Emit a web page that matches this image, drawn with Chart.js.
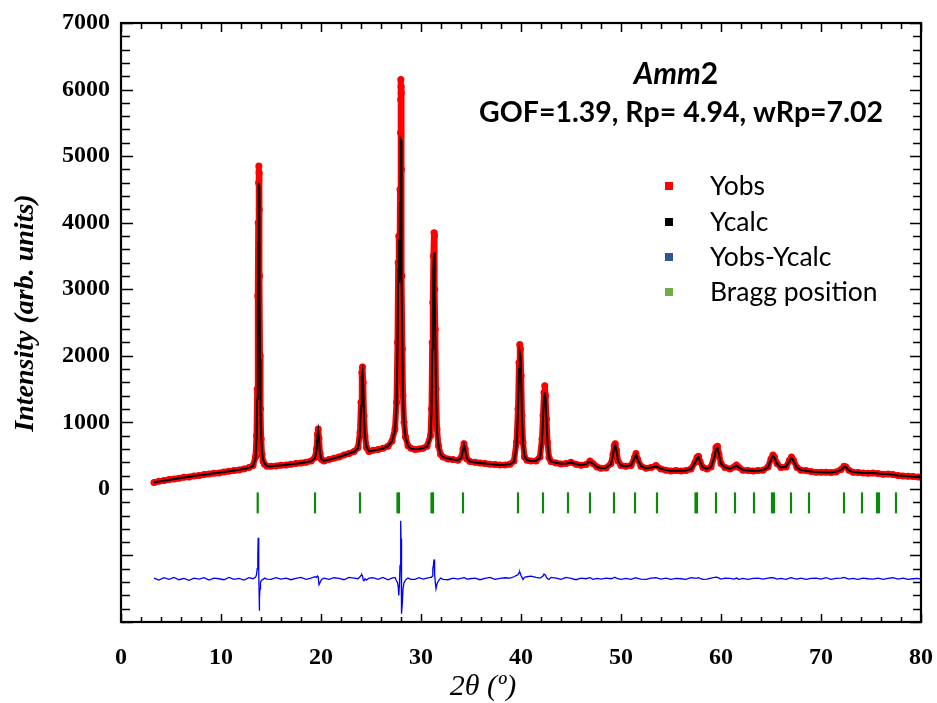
<!DOCTYPE html>
<html>
<head>
<meta charset="utf-8">
<script src="https://cdn.jsdelivr.net/npm/chart.js@4.4.1/dist/chart.umd.min.js"></script>
<style>
  html, body { margin: 0; padding: 0; background: #fff; }
  #wrap { width: 937px; height: 703px; }
</style>
</head>
<body>
<div id="wrap"><canvas id="rietveld" width="937" height="703"></canvas></div>
<script>
// 2theta grid (deg), with extra points through each peak
const twoTheta = [
  3.3, 3.8, 4.3, 4.8, 5.3, 5.8, 6.3, 6.8, 7.3, 7.8, 8.3, 8.8, 9.3, 9.8, 10.3, 10.8, 11.3, 11.8, 12.3, 12.8, 13.2,
  13.45, 13.55, 13.62, 13.68, 13.72, 13.76, 13.79, 13.81, 13.83, 13.86, 13.9, 13.95, 14.02, 14.1, 14.2, 14.35, 14.6,
  15.0, 15.5, 16.0, 16.5, 17.0, 17.5, 18.0, 18.5, 19.0, 19.4,
  19.55, 19.65, 19.72, 19.8, 19.9, 20.05, 20.3,
  20.8, 21.3, 21.8, 22.3, 22.8, 23.3, 23.7,
  23.9, 24.0, 24.08, 24.15, 24.22, 24.3, 24.4, 24.55, 24.8,
  25.2, 25.7, 26.2, 26.7, 27.1, 27.4,
  27.55, 27.65, 27.72, 27.78, 27.84, 27.9, 27.95, 27.97, 27.99, 28.0, 28.02, 28.05, 28.09, 28.14, 28.2, 28.3, 28.45, 28.7, 29.0,
  29.4, 29.8, 30.2, 30.6, 30.95,
  31.05, 31.12, 31.18, 31.24, 31.3, 31.34, 31.38, 31.43, 31.5, 31.6, 31.75, 31.95, 32.2,
  32.7, 33.2, 33.7, 34.05,
  34.2, 34.3, 34.42, 34.6, 34.9,
  35.4, 35.9, 36.4, 36.9, 37.4, 37.9, 38.4, 38.9, 39.3, 39.55,
  39.7, 39.8, 39.88, 39.95, 40.02, 40.1, 40.2, 40.35, 40.6,
  41.0, 41.5, 41.9, 42.1,
  42.2, 42.3, 42.38, 42.46, 42.55, 42.65, 42.8, 43.0,
  43.5, 44.0, 44.5, 45.0, 45.5, 46.0, 46.5, 46.9, 47.2, 47.6, 48.0, 48.5, 49.0,
  49.2, 49.32, 49.42, 49.55, 49.7, 50.0,
  50.5, 51.0, 51.35, 51.5, 51.65, 52.0,
  52.5, 53.0, 53.5, 54.0, 54.5, 55.0, 55.5, 56.0, 56.5, 57.0, 57.4,
  57.6, 57.75, 57.9, 58.2,
  58.6, 59.0, 59.35, 59.5, 59.65, 59.8, 60.0, 60.4,
  60.9, 61.3, 61.55, 61.8, 62.2,
  62.7, 63.2, 63.7, 64.2, 64.7, 65.0, 65.2, 65.35, 65.6,
  66.0, 66.5, 66.85, 67.05, 67.25, 67.6, 68.0,
  68.5, 69.0, 69.5, 70.0, 70.5, 71.0, 71.5, 72.0, 72.3, 72.5, 72.8, 73.2, 73.7, 74.2, 74.7, 75.2, 75.7, 76.2, 76.7, 77.2, 77.7, 78.2, 78.7, 79.2, 79.7, 80.0
];

const yObs = [
  95, 115, 125, 140, 150, 160, 175, 180, 195, 200, 215, 225, 235, 240, 255, 265, 275, 285, 300, 320, 350,
  480, 800, 1500, 2900, 4000, 4600, 4850, 4750, 4200, 3200, 2000, 1200, 750, 520, 420, 370, 340,
  340, 345, 355, 360, 370, 380, 390, 400, 420, 470,
  600, 820, 900, 760, 540, 440, 420,
  440, 460, 480, 510, 530, 560, 620,
  850, 1300, 1750, 1830, 1600, 1100, 800, 620, 560,
  580, 590, 610, 640, 720, 900,
  1300, 2200, 3400, 3800, 3000, 4500, 5350, 5850, 6150, 6050, 5950, 4800, 3200, 2100, 1400, 1000, 780, 650, 610,
  590, 600, 610, 640, 800,
  1200, 2200, 2800, 3500, 3850, 3800, 3000, 2400, 1500, 900, 650, 520, 480,
  450, 440, 430, 480,
  600, 680, 600, 450, 410,
  400, 390, 380, 370, 365, 360, 360, 370, 420, 700,
  1200, 1900, 2170, 2100, 1700, 1100, 700, 480, 430,
  420, 420, 480, 750,
  1100, 1450, 1550, 1400, 1050, 700, 470, 410,
  390, 375, 380, 400, 370, 355, 365, 420, 380, 330, 310, 315, 380,
  520, 650, 680, 580, 420, 350,
  340, 350, 470, 530, 450, 340,
  310, 320, 350, 300, 280, 270, 275, 270, 275, 300, 400,
  470, 490, 410, 320,
  300, 330, 500, 620, 640, 520, 380, 320,
  300, 330, 360, 320, 280,
  275, 270, 275, 280, 330, 450, 510, 480, 380,
  320, 330, 430, 480, 430, 320, 280,
  275, 260, 250, 250, 250, 245, 255, 290, 340, 330, 280, 250, 245, 240, 235, 240, 230, 220, 225, 215, 200, 195, 190, 185, 180, 175
];

const yCalc = [
  100, 110, 122, 135, 148, 160, 170, 182, 192, 203, 213, 224, 234, 244, 254, 265, 276, 287, 300, 318, 345,
  450, 750, 1350, 2600, 3700, 4400, 4600, 4550, 4000, 3050, 1950, 1150, 780, 560, 440, 380, 345,
  338, 346, 353, 361, 369, 378, 388, 399, 415, 460,
  580, 800, 870, 740, 530, 445, 422,
  438, 458, 480, 505, 532, 558, 610,
  820, 1250, 1700, 1760, 1550, 1080, 790, 630, 565,
  575, 590, 608, 640, 715, 880,
  1250, 2100, 3300, 3750, 3100, 4300, 5100, 5200, 5250, 5240, 5200, 4600, 3200, 2100, 1400, 980, 770, 650, 605,
  595, 598, 612, 635, 780,
  1150, 2100, 2500, 3300, 3550, 3500, 2900, 2300, 1450, 880, 640, 520, 478,
  455, 442, 432, 470,
  590, 660, 590, 455, 412,
  398, 390, 382, 372, 365, 360, 362, 372, 410, 650,
  1150, 1800, 2050, 2000, 1650, 1080, 690, 485, 432,
  418, 422, 470, 720,
  1050, 1380, 1450, 1350, 1000, 690, 475, 412,
  392, 378, 382, 395, 372, 358, 368, 410, 378, 328, 312, 318, 370,
  510, 630, 660, 570, 420, 352,
  340, 352, 460, 515, 445, 342,
  312, 322, 340, 302, 282, 272, 273, 272, 277, 298, 390,
  460, 480, 405, 322,
  302, 328, 480, 600, 620, 510, 378, 322,
  302, 328, 350, 318, 282,
  277, 272, 274, 282, 322, 440, 495, 470, 375,
  322, 332, 420, 470, 420, 318, 282,
  272, 262, 252, 250, 248, 248, 256, 285, 330, 325, 278, 252, 245, 240, 238, 238, 230, 222, 222, 214, 202, 196, 190, 184, 180, 176
];

// residual (drawn shifted by diffOffset)
const yDiff = [
  10, -20, 15, -10, 20, -15, 5, -25, 10, -5, 15, -20, 10, 0, -15, 20, -10, 5, -20, 15, 0,
  20, 60, 150, 350, 615, 450, 100, -200, -480, -300, -150, -60, -30, -20, -10, 10, -5,
  -10, 15, -5, 10, -15, 5, 20, -10, 10, 30,
  20, 40, 30, -90, -60, -10, 10,
  -10, 15, 5, -15, 20, 10, 0,
  30, 50, 60, 40, -20, -30, 0, -20, 10,
  15, -10, 20, -15, 10, 20,
  -30, -60, -120, -250, -100, 200, 500, 700, 870, 600, 300, -300, -525, -350, -150, -60, -20, 10, -10,
  -10, 15, -5, 10, 20,
  20, 40, 150, 200, 290, 250, 80, -50, -150, -80, -30, 10, -10,
  -15, 10, -5, 10,
  10, 20, 10, -5, 0,
  10, -15, 5, 20, -10, 5, 15, 10, 30, 50,
  60, 90, 100, 70, 40, 20, -10, 20, 30,
  40, 20, 10, 30,
  40, 70, 60, 50, 20, 0, -10, 20,
  10, -10, 20, 5, -15, 10, 0, 15, -10, 5, -5, 10, 0,
  10, 20, 20, 10, 0, -10,
  5, -10, 10, 15, 5, -5,
  -10, 10, 15, -5, 10, -10, 5, 0, -10, 15, 10,
  10, 15, 5, -10,
  -5, 10, 20, 25, 20, 10, -5, 10,
  5, -5, 10, -10, 5,
  -10, 5, 10, -5, 10, 15, 15, 10, -5,
  5, -10, 10, 15, 5, -5, 10,
  -10, 5, 10, -5, 15, -10, 5, 10, 20, 10, -5, 5, -10, 10, 0, -5, 10, -10, 5, 15, -5, 10, -10, 0, 5, -5
];

const braggPos = [
  13.67, 19.4, 23.9, 27.65, 27.8, 31.05, 31.2, 34.2, 39.7, 42.2, 44.7, 46.9, 49.3, 51.4, 53.6,
  57.45, 57.6, 59.5, 61.4, 63.3, 65.1, 65.3, 67.0, 68.8, 72.3, 74.1, 75.6, 75.8, 77.5
];

const diffOffset = -1350;
const braggLevel = -210;

const legendLabels = ["Yobs", "Ycalc", "Yobs-Ycalc", "Bragg position"];
const legendColors = ["#ff0000", "#000000", "#2f5597", "#70ad47"];

const xTicks = { min: 0, max: 80, major: 10, minor: 2 };
const yTicks = { min: -2000, max: 7000, major: 1000, minor: 200 };

const obsPts = twoTheta.map((x, i) => ({ x: x, y: yObs[i] }));
const calcPts = twoTheta.map((x, i) => ({ x: x, y: yCalc[i] }));
const diffPts = twoTheta.map((x, i) => ({ x: x, y: yDiff[i] + diffOffset }));
const braggPts = braggPos.map(x => ({ x: x, y: braggLevel }));

// frame with inward ticks on all four sides
const framePlugin = {
  id: "frame",
  afterDraw(chart) {
    const { ctx, chartArea: a, scales } = chart;
    const sx = scales.x, sy = scales.y;
    ctx.save();
    ctx.strokeStyle = "#000";
    ctx.lineWidth = 1.5;
    ctx.beginPath();
    for (let v = xTicks.min; v <= xTicks.max; v += xTicks.minor) {
      const px = Math.round(sx.getPixelForValue(v)) + 0.5;
      const maj = v % xTicks.major === 0;
      ctx.moveTo(px, a.bottom); ctx.lineTo(px, a.bottom - (maj ? 8 : 5));
      ctx.moveTo(px, a.top); ctx.lineTo(px, a.top + (maj ? 9 : 6));
    }
    for (let v = yTicks.min; v <= yTicks.max; v += yTicks.minor) {
      const py = Math.round(sy.getPixelForValue(v)) + 0.5;
      const maj = v % yTicks.major === 0;
      ctx.moveTo(a.left, py); ctx.lineTo(a.left + (maj ? 12 : 9), py);
      ctx.moveTo(a.right, py); ctx.lineTo(a.right - (maj ? 11 : 8), py);
    }
    ctx.stroke();
    ctx.lineWidth = 2.2;
    ctx.strokeRect(a.left, a.top, a.right - a.left, a.bottom - a.top);
    ctx.restore();
  }
};

// axis titles, annotation and the legend box
const textPlugin = {
  id: "texts",
  afterDraw(chart) {
    const ctx = chart.ctx;
    ctx.save();
    ctx.fillStyle = "#000";
    ctx.textBaseline = "middle";

    ctx.save();
    ctx.translate(26, 313);
    ctx.rotate(-Math.PI / 2);
    ctx.textAlign = "center";
    ctx.font = "italic bold 28px 'Liberation Serif'";
    ctx.fillText("Intensity (arb. units)", 0, 0);
    ctx.restore();

    ctx.textAlign = "center";
    ctx.font = "italic 30px 'Liberation Serif'";
    ctx.fillText("2θ (º)", 483, 687);

    ctx.textAlign = "left";
    ctx.font = "italic bold 30px Lato";
    const w1 = ctx.measureText("Amm").width;
    ctx.font = "bold 30px Lato";
    const w2 = ctx.measureText("2").width;
    const sx = 676 - (w1 + w2) / 2;
    ctx.font = "italic bold 30px Lato";
    ctx.fillText("Amm", sx, 74);
    ctx.font = "bold 30px Lato";
    ctx.fillText("2", sx + w1, 74);

    ctx.textAlign = "center";
    ctx.font = "bold 28.5px Lato";
    ctx.fillText("GOF=1.39, Rp= 4.94, wRp=7.02", 681, 113);

    ctx.textAlign = "left";
    ctx.font = "26.5px Lato";
    const rows = [186, 222, 257, 292];
    legendLabels.forEach((lab, i) => {
      ctx.fillStyle = legendColors[i];
      ctx.fillRect(665, rows[i] - 4, 8, 8);
      ctx.fillStyle = "#000";
      ctx.fillText(lab, 710, rows[i]);
    });
    ctx.restore();
  }
};

const tickFont = { family: "'Liberation Serif'", size: 24, weight: "bold" };

new Chart(document.getElementById("rietveld"), {
  type: "scatter",
  data: {
    datasets: [
      {
        label: "Ycalc",
        data: calcPts,
        showLine: true,
        borderColor: "#000",
        borderWidth: 2,
        pointRadius: 0,
        order: 1
      },
      {
        label: "Yobs",
        data: obsPts,
        showLine: true,
        borderColor: "#ff0000",
        borderWidth: 6,
        borderJoinStyle: "round",
        borderCapStyle: "round",
        backgroundColor: "#ff0000",
        pointBorderWidth: 0,
        pointRadius: 3.5,
        order: 2
      },
      {
        label: "Yobs-Ycalc",
        data: diffPts,
        showLine: true,
        borderColor: "#0000ff",
        borderWidth: 1.3,
        pointRadius: 0,
        order: 3
      },
      {
        label: "Bragg position",
        data: braggPts,
        showLine: false,
        pointStyle: "line",
        rotation: 90,
        pointRadius: 10.5,
        borderColor: "#0a8a0a",
        pointBorderWidth: 2.2,
        order: 4
      }
    ]
  },
  options: {
    responsive: false,
    animation: false,
    devicePixelRatio: 1,
    layout: { autoPadding: false, padding: { top: 23, right: 16, left: 0, bottom: 0 } },
    elements: { line: { tension: 0 } },
    plugins: {
      legend: { display: false },
      tooltip: { enabled: false }
    },
    scales: {
      x: {
        type: "linear",
        min: xTicks.min,
        max: xTicks.max,
        grid: { display: false, drawTicks: false },
        border: { display: false },
        ticks: { stepSize: xTicks.major, font: tickFont, color: "#000", padding: 21, maxRotation: 0 },
        afterFit(scale) {
          scale.height = 81;
          scale.paddingLeft = 0;
          scale.paddingRight = 0;
        }
      },
      y: {
        type: "linear",
        min: yTicks.min,
        max: yTicks.max,
        grid: { display: false, drawTicks: false },
        border: { display: false },
        ticks: {
          stepSize: yTicks.major,
          font: tickFont,
          color: "#000",
          padding: 11,
          callback: v => (v >= 0 ? v : "")
        },
        afterFit(scale) {
          scale.width = 121;
          scale.paddingTop = 0;
          scale.paddingBottom = 0;
        }
      }
    }
  },
  plugins: [framePlugin, textPlugin]
});
</script>
</body>
</html>
